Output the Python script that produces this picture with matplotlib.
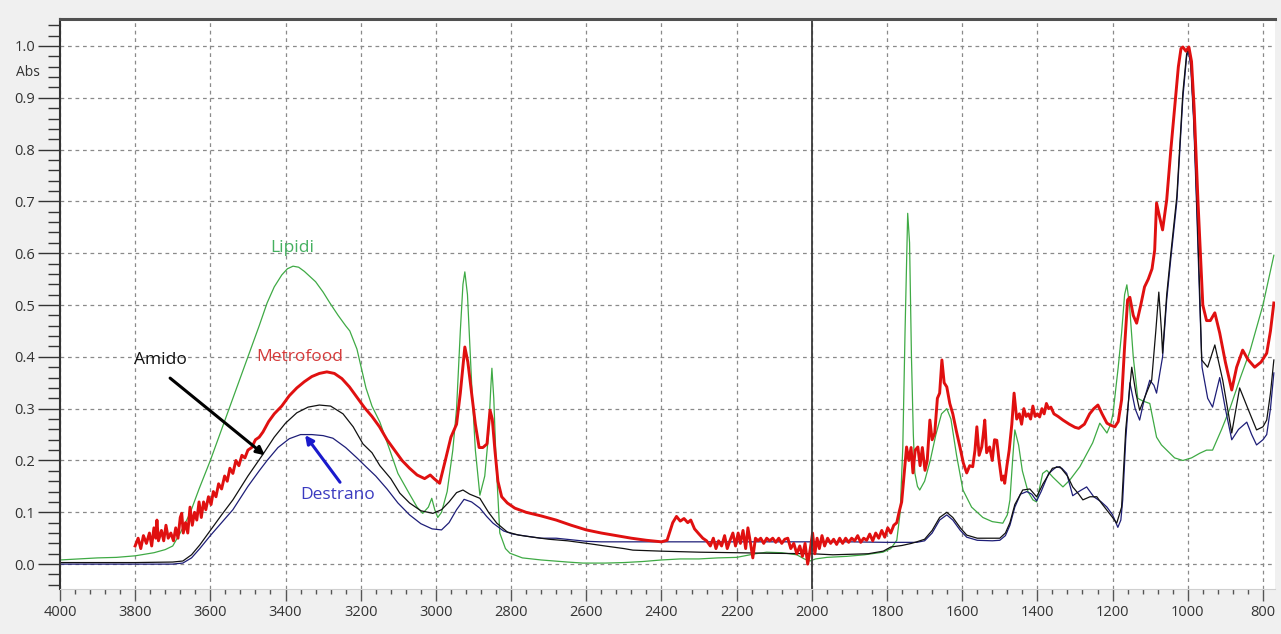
"""
FTIR spectra: Metrofood sample compared with reference components.
"""

import matplotlib
matplotlib.use("Agg")
import matplotlib.pyplot as plt
from matplotlib.ticker import MultipleLocator, FormatStrFormatter

plt.rcParams['font.family'] = ['Open Sans', 'DejaVu Sans']

# Lipidi (green)
lipidi_wn = [4000, 3950, 3900, 3850, 3800, 3750, 3720, 3700, 3680, 3654, 3630, 3600, 3550, 3500,
             3470, 3449, 3430, 3410, 3395, 3380, 3365, 3350, 3320, 3300, 3282, 3260, 3240, 3229,
             3210, 3186, 3170, 3149, 3125, 3101, 3070, 3050, 3035, 3020, 3011, 3003, 2995, 2985,
             2970, 2955, 2945, 2935, 2928, 2923, 2916, 2905, 2895, 2883, 2870, 2860, 2854, 2851,
             2846, 2840, 2830, 2815, 2803, 2770, 2720, 2650, 2609, 2550, 2500, 2450, 2400, 2350,
             2300, 2250, 2200, 2150, 2120, 2080, 2040, 2020, 2005, 1990, 1960, 1907, 1860, 1811,
             1790, 1774, 1765, 1758, 1752, 1745, 1740, 1735, 1730, 1726, 1719, 1713, 1700, 1685,
             1670, 1655, 1641, 1630, 1615, 1598, 1575, 1545, 1520, 1492, 1480, 1473, 1466, 1460,
             1450, 1440, 1425, 1412, 1402, 1386, 1375, 1359, 1332, 1314, 1287, 1253, 1234, 1215,
             1205, 1199, 1185, 1176, 1168, 1162, 1155, 1145, 1133, 1120, 1101, 1090, 1083, 1070,
             1056, 1035, 1013, 990, 968, 950, 934, 910, 888, 860, 835, 800, 771]
lipidi_abs = [0.008, 0.010, 0.012, 0.013, 0.016, 0.022, 0.028, 0.035, 0.060, 0.098, 0.145, 0.200,
              0.300, 0.400, 0.460, 0.504, 0.535, 0.558, 0.570, 0.575, 0.573, 0.565, 0.545, 0.525,
              0.504, 0.480, 0.460, 0.450, 0.415, 0.340, 0.305, 0.274, 0.225, 0.175, 0.135, 0.110,
              0.098, 0.110, 0.127, 0.105, 0.090, 0.100, 0.140, 0.220, 0.300, 0.450, 0.540, 0.564,
              0.520, 0.350, 0.220, 0.133, 0.170, 0.250, 0.340, 0.378, 0.320, 0.200, 0.060, 0.030,
              0.021, 0.012, 0.008, 0.004, 0.002, 0.002, 0.003, 0.005, 0.008, 0.010, 0.010, 0.012,
              0.013, 0.020, 0.023, 0.022, 0.018, 0.010, 0.006, 0.010, 0.013, 0.015, 0.018, 0.023,
              0.030, 0.046, 0.100, 0.226, 0.450, 0.677, 0.620, 0.400, 0.250, 0.176, 0.150, 0.143,
              0.160, 0.200, 0.250, 0.290, 0.300, 0.280, 0.210, 0.143, 0.110, 0.090, 0.082, 0.079,
              0.095, 0.124, 0.200, 0.259, 0.230, 0.180, 0.140, 0.124, 0.120, 0.175, 0.181, 0.168,
              0.149, 0.162, 0.188, 0.234, 0.272, 0.253, 0.270, 0.290, 0.380, 0.446, 0.520, 0.539,
              0.500, 0.400, 0.320, 0.315, 0.310, 0.270, 0.245, 0.230, 0.220, 0.205, 0.200, 0.205,
              0.214, 0.220, 0.220, 0.260, 0.300, 0.360, 0.410, 0.500, 0.596]

# Amido (black)
amido_wn = [4000, 3900, 3800, 3700, 3673, 3650, 3628, 3600, 3570, 3540, 3500, 3460, 3430, 3400,
            3370, 3340, 3310, 3280, 3247, 3220, 3194, 3170, 3149, 3120, 3096, 3070, 3040, 3008,
            2985, 2965, 2945, 2928, 2910, 2883, 2860, 2838, 2810, 2780, 2742, 2700, 2650, 2598,
            2550, 2500, 2476, 2400, 2298, 2200, 2120, 2000, 1944, 1850, 1810, 1790, 1760, 1735,
            1721, 1700, 1680, 1660, 1641, 1625, 1605, 1588, 1560, 1520, 1500, 1485, 1473, 1460,
            1439, 1420, 1402, 1385, 1360, 1340, 1320, 1306, 1290, 1279, 1260, 1242, 1230, 1215,
            1200, 1189, 1176, 1165, 1149, 1138, 1128, 1110, 1096, 1085, 1077, 1070, 1067, 1056,
            1045, 1029, 1013, 1003, 998, 992, 984, 976, 968, 963, 947, 928, 907, 883, 862, 840,
            817, 800, 790, 780, 771]
amido_abs = [0.003, 0.003, 0.003, 0.004, 0.006, 0.018, 0.037, 0.065, 0.095, 0.124, 0.170, 0.212,
             0.245, 0.272, 0.292, 0.303, 0.307, 0.305, 0.290, 0.265, 0.232, 0.215, 0.190, 0.165,
             0.137, 0.118, 0.103, 0.098, 0.105, 0.120, 0.138, 0.143, 0.135, 0.127, 0.100, 0.079,
             0.062, 0.056, 0.052, 0.048, 0.045, 0.040, 0.035, 0.030, 0.027, 0.025, 0.023, 0.022,
             0.021, 0.020, 0.018, 0.020, 0.025, 0.033, 0.036, 0.040, 0.043, 0.048, 0.065, 0.090,
             0.100, 0.090, 0.070, 0.056, 0.050, 0.050, 0.050, 0.060, 0.080, 0.115, 0.143, 0.145,
             0.130, 0.155, 0.185, 0.188, 0.170, 0.149, 0.135, 0.124, 0.130, 0.130, 0.118, 0.104,
             0.090, 0.079, 0.110, 0.260, 0.380, 0.330, 0.297, 0.330, 0.355, 0.450, 0.525, 0.450,
             0.407, 0.520, 0.600, 0.710, 0.910, 0.985, 0.995, 0.970, 0.860, 0.700, 0.520, 0.394,
             0.380, 0.423, 0.355, 0.253, 0.340, 0.300, 0.259, 0.265, 0.278, 0.330, 0.394]

# Destrano (navy)
destrano_wn = [4000, 3900, 3800, 3700, 3673, 3650, 3628, 3600, 3570, 3540, 3500, 3470, 3449, 3420,
               3390, 3360, 3330, 3300, 3274, 3240, 3210, 3186, 3160, 3130, 3101, 3070, 3040, 3010,
               2985, 2965, 2945, 2925, 2905, 2883, 2865, 2848, 2820, 2795, 2760, 2720, 2680, 2640,
               2600, 2560, 2500, 2400, 2300, 2200, 2100, 2000, 1900, 1800, 1721, 1700, 1680, 1660,
               1641, 1625, 1605, 1588, 1560, 1520, 1500, 1485, 1473, 1460, 1445, 1428, 1415, 1402,
               1390, 1370, 1349, 1335, 1322, 1306, 1290, 1269, 1250, 1230, 1215, 1200, 1186, 1178,
               1173, 1165, 1154, 1140, 1128, 1115, 1101, 1090, 1083, 1074, 1067, 1056, 1045, 1029,
               1013, 1003, 998, 992, 984, 976, 968, 962, 947, 934, 925, 915, 900, 883, 865, 843,
               830, 817, 800, 790, 780, 771]
destrano_abs = [0.000, 0.000, 0.000, 0.000, 0.002, 0.012, 0.030, 0.055, 0.080, 0.105, 0.150, 0.180,
                0.200, 0.225, 0.242, 0.250, 0.250, 0.248, 0.243, 0.225, 0.205, 0.188, 0.170, 0.145,
                0.118, 0.095, 0.078, 0.068, 0.066, 0.080, 0.105, 0.125, 0.120, 0.108, 0.092, 0.079,
                0.064, 0.058, 0.054, 0.050, 0.050, 0.047, 0.044, 0.043, 0.043, 0.043, 0.043, 0.043,
                0.043, 0.043, 0.043, 0.042, 0.042, 0.045, 0.060, 0.085, 0.095, 0.085, 0.065, 0.052,
                0.046, 0.045, 0.046, 0.055, 0.075, 0.110, 0.135, 0.140, 0.135, 0.122, 0.140, 0.175,
                0.188, 0.185, 0.175, 0.132, 0.140, 0.149, 0.130, 0.120, 0.110, 0.095, 0.071, 0.085,
                0.124, 0.240, 0.350, 0.300, 0.278, 0.320, 0.355, 0.345, 0.330, 0.370, 0.400, 0.510,
                0.590, 0.700, 0.900, 0.980, 0.990, 0.960, 0.850, 0.680, 0.500, 0.380, 0.320, 0.303,
                0.330, 0.360, 0.300, 0.240, 0.260, 0.274, 0.250, 0.230, 0.240, 0.250, 0.300, 0.369]

# Metrofood (red, noisy)
metro_wn = [3800, 3792, 3785, 3778, 3770, 3762, 3756, 3750, 3745, 3742, 3738, 3730, 3724, 3718,
            3712, 3705, 3698, 3692, 3686, 3680, 3676, 3672, 3666, 3660, 3654, 3648, 3642, 3636,
            3630, 3624, 3618, 3612, 3605, 3598, 3592, 3585, 3578, 3570, 3562, 3555, 3548, 3540,
            3532, 3524, 3516, 3508, 3500, 3490, 3480, 3470, 3460, 3445, 3430, 3410, 3390, 3370,
            3350, 3330, 3310, 3290, 3270, 3250, 3230, 3210, 3190, 3170, 3150, 3130, 3110, 3090,
            3070, 3050, 3030, 3015, 3005, 2990, 2975, 2960, 2945, 2935, 2923, 2915, 2905, 2895,
            2885, 2875, 2864, 2856, 2850, 2843, 2835, 2825, 2810, 2790, 2760, 2720, 2680, 2640,
            2600, 2560, 2520, 2480, 2440, 2400, 2385, 2370, 2360, 2350, 2340, 2330, 2322, 2312,
            2300, 2290, 2280, 2270, 2262, 2255, 2248, 2240, 2232, 2225, 2218, 2210, 2203, 2196,
            2190, 2183, 2176, 2170, 2163, 2157, 2150, 2143, 2136, 2128, 2120, 2112, 2104, 2096,
            2088, 2080, 2072, 2064, 2056, 2048, 2040, 2032, 2025, 2018, 2011, 2004, 1998, 1992,
            1986, 1980, 1973, 1966, 1958, 1950, 1942, 1934, 1926, 1918, 1910, 1902, 1894, 1886,
            1878, 1870, 1862, 1854, 1846, 1838, 1830, 1822, 1814, 1806, 1798, 1790, 1782, 1774,
            1768, 1761, 1755, 1748, 1742, 1736, 1731, 1725, 1718, 1712, 1706, 1699, 1693, 1686,
            1680, 1673, 1666, 1660, 1654, 1648, 1641, 1633, 1625, 1615, 1606, 1597, 1588, 1580,
            1572, 1566, 1561, 1555, 1548, 1544, 1540, 1535, 1527, 1520, 1514, 1508, 1502, 1495,
            1490, 1487, 1481, 1475, 1468, 1462, 1455, 1448, 1442, 1436, 1430, 1424, 1418, 1412,
            1406, 1400, 1394, 1388, 1382, 1376, 1370, 1364, 1356, 1345, 1332, 1315, 1300, 1290,
            1275, 1261, 1250, 1239, 1228, 1215, 1205, 1194, 1185, 1176, 1168, 1160, 1154, 1145,
            1136, 1125, 1115, 1105, 1095, 1088, 1083, 1075, 1067, 1056, 1045, 1035, 1025, 1018,
            1013, 1005, 997, 990, 983, 973, 960, 950, 940, 928, 915, 900, 883, 870, 854, 840,
            822, 805, 790, 780, 771]
metro_abs = [0.035, 0.050, 0.030, 0.055, 0.040, 0.060, 0.035, 0.070, 0.050, 0.085, 0.045, 0.065,
             0.045, 0.075, 0.050, 0.060, 0.045, 0.070, 0.050, 0.090, 0.098, 0.060, 0.080, 0.060,
             0.110, 0.075, 0.100, 0.085, 0.120, 0.090, 0.120, 0.105, 0.130, 0.115, 0.140, 0.130,
             0.155, 0.145, 0.170, 0.160, 0.185, 0.175, 0.200, 0.190, 0.210, 0.205, 0.220, 0.225,
             0.240, 0.245, 0.255, 0.275, 0.290, 0.305, 0.325, 0.340, 0.352, 0.362, 0.368, 0.371,
             0.368, 0.358, 0.342, 0.322, 0.302, 0.285, 0.265, 0.240, 0.220, 0.200, 0.185, 0.172,
             0.165, 0.172, 0.165, 0.156, 0.200, 0.245, 0.270, 0.330, 0.419, 0.390, 0.330, 0.270,
             0.225, 0.225, 0.232, 0.297, 0.280, 0.220, 0.160, 0.130, 0.118, 0.108, 0.100, 0.093,
             0.085, 0.075, 0.066, 0.060, 0.055, 0.050, 0.046, 0.043, 0.046, 0.080, 0.092, 0.083,
             0.088, 0.080, 0.085, 0.068, 0.058, 0.050, 0.045, 0.035, 0.050, 0.030, 0.045, 0.035,
             0.055, 0.030, 0.045, 0.060, 0.035, 0.060, 0.040, 0.065, 0.030, 0.070, 0.040, 0.012,
             0.050, 0.045, 0.050, 0.040, 0.050, 0.045, 0.050, 0.042, 0.050, 0.040, 0.048, 0.050,
             0.030, 0.040, 0.020, 0.035, 0.015, 0.040, 0.000, 0.030, 0.060, 0.020, 0.050, 0.030,
             0.055, 0.035, 0.050, 0.040, 0.048, 0.038, 0.050, 0.040, 0.050, 0.042, 0.050, 0.045,
             0.055, 0.042, 0.050, 0.046, 0.058, 0.045, 0.060, 0.050, 0.065, 0.052, 0.070, 0.060,
             0.075, 0.080, 0.100, 0.120, 0.170, 0.226, 0.200, 0.225, 0.176, 0.220, 0.226, 0.190,
             0.225, 0.181, 0.200, 0.278, 0.240, 0.253, 0.320, 0.330, 0.394, 0.350, 0.342, 0.310,
             0.290, 0.255, 0.226, 0.195, 0.176, 0.190, 0.188, 0.220, 0.265, 0.210, 0.226, 0.250,
             0.278, 0.215, 0.226, 0.200, 0.240, 0.239, 0.200, 0.162, 0.170, 0.156, 0.190, 0.220,
             0.270, 0.330, 0.280, 0.290, 0.270, 0.300, 0.285, 0.290, 0.280, 0.305, 0.285, 0.290,
             0.284, 0.300, 0.290, 0.310, 0.300, 0.303, 0.290, 0.285, 0.278, 0.270, 0.264, 0.262,
             0.270, 0.290, 0.300, 0.307, 0.290, 0.272, 0.268, 0.265, 0.275, 0.317, 0.420, 0.510,
             0.515, 0.480, 0.465, 0.500, 0.535, 0.550, 0.570, 0.606, 0.697, 0.670, 0.645, 0.703,
             0.800, 0.880, 0.960, 0.995, 0.998, 0.990, 0.998, 0.970, 0.880, 0.703, 0.500, 0.470,
             0.470, 0.485, 0.446, 0.390, 0.336, 0.380, 0.413, 0.395, 0.380, 0.390, 0.407, 0.450,
             0.504]

x_ticks = [4000, 3800, 3600, 3400, 3200, 3000, 2800, 2600, 2400, 2200, 2000,
           1800, 1600, 1400, 1200, 1000, 800]
y_ticks = [0.0, 0.1, 0.2, 0.3, 0.4, 0.5, 0.6, 0.7, 0.8, 0.9, 1.0]


fig = plt.figure(figsize=(12.81, 6.34), dpi=100, facecolor='#f0f0f0')
ax = fig.add_axes([0.0468, 0.071, 0.9485, 0.899])
ax.set_facecolor('white')

ax.plot(lipidi_wn, lipidi_abs, color='#3faa45', lw=0.9)
ax.plot(destrano_wn, destrano_abs, color='#1e1e78', lw=0.9)
ax.plot(amido_wn, amido_abs, color='#111111', lw=0.9)
ax.plot(metro_wn, metro_abs, color='#e01010', lw=2.1)

ax.axvline(2000, color='#3a3a3a', lw=1.3)

ax.set_xlim(4000, 768)
ax.set_ylim(-0.048, 1.052)

ax.set_xticks(x_ticks)
ax.set_yticks(y_ticks)
ax.xaxis.set_minor_locator(MultipleLocator(40))
ax.yaxis.set_minor_locator(MultipleLocator(0.02))
ax.yaxis.set_major_formatter(FormatStrFormatter('%.1f'))

ax.tick_params(axis='y', which='major', length=16, width=1, color='#333333',
               labelsize=10.5, labelcolor='#333333', pad=2)
ax.tick_params(axis='y', which='minor', length=8.5, width=1, color='#333333')
ax.tick_params(axis='x', which='major', length=8.5, width=1, color='#555555',
               labelsize=10.5, labelcolor='#333333', pad=3)
ax.tick_params(axis='x', which='minor', length=3.5, width=1, color='#555555')

ax.grid(which='major', color='#8a8a8a', lw=0.9, ls=(0, (3, 3)))

ax.spines['right'].set_visible(False)
ax.spines['top'].set_color('#505050')
ax.spines['top'].set_linewidth(2.2)
ax.spines['left'].set_color('#333333')
ax.spines['left'].set_linewidth(1.5)
ax.spines['bottom'].set_color('#d0d0d0')
ax.spines['bottom'].set_linewidth(0.8)

fig.text(0.022, 0.886, 'Abs', fontsize=10, color='#333333', ha='center', va='center')

# annotations
ax.text(3383, 0.61, 'Lipidi', color='#45b060', fontsize=12.5, ha='center', va='center')
ax.text(3362, 0.40, 'Metrofood', color='#d63a3a', fontsize=12.5, ha='center', va='center')
ax.text(3734, 0.394, 'Amido', color='#111111', fontsize=12.5, ha='center', va='center')
ax.text(3261, 0.133, 'Destrano', color='#3a3ac0', fontsize=12.5, ha='center', va='center')

ax.annotate('', xy=(3455, 0.21), xytext=(3707, 0.359),
            arrowprops=dict(arrowstyle='-|>', color='black', lw=2.2,
                            mutation_scale=12, shrinkA=0, shrinkB=0))
ax.annotate('', xy=(3348, 0.249), xytext=(3255, 0.158),
            arrowprops=dict(arrowstyle='-|>', color='#1a1acc', lw=2.2,
                            mutation_scale=12, shrinkA=0, shrinkB=0))

fig.savefig('out.png', dpi=100, facecolor=fig.get_facecolor())
